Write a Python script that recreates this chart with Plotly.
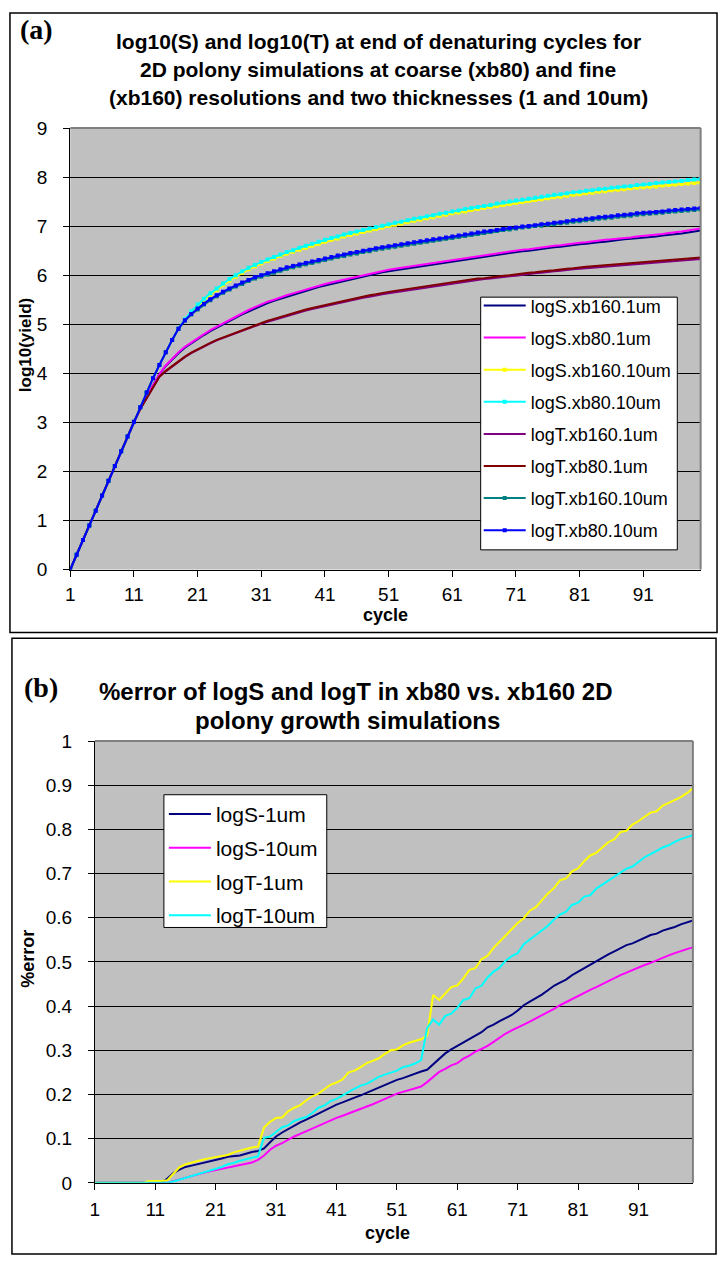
import plotly.graph_objects as go

# ---------------- data ----------------
cycles = list(range(1, 101))
x_tick_labels = [1, 11, 21, 31, 41, 51, 61, 71, 81, 91]

# shared exponential phase, cycles 1..11 (panel a)
early = [0.00, 0.30, 0.60, 0.90, 1.20, 1.51, 1.81, 2.11, 2.41, 2.71, 3.01]

logS_xb160_1um = early + [
    3.29, 3.53, 3.76, 3.98, 4.15, 4.29, 4.41, 4.52, 4.61,
    4.70, 4.78, 4.86, 4.93, 5.00, 5.07, 5.14, 5.20, 5.26, 5.32,
    5.38, 5.43, 5.48, 5.52, 5.57, 5.61, 5.65, 5.69, 5.72, 5.76,
    5.79, 5.82, 5.86, 5.89, 5.92, 5.95, 5.98, 6.00, 6.03, 6.06,
    6.08, 6.10, 6.12, 6.14, 6.16, 6.18, 6.20, 6.22, 6.24, 6.26,
    6.28, 6.30, 6.32, 6.34, 6.36, 6.38, 6.40, 6.42, 6.43, 6.45,
    6.47, 6.49, 6.50, 6.52, 6.53, 6.55, 6.57, 6.58, 6.60, 6.61,
    6.63, 6.64, 6.66, 6.67, 6.68, 6.70, 6.71, 6.73, 6.74, 6.75,
    6.77, 6.78, 6.79, 6.81, 6.82, 6.84, 6.85, 6.87, 6.89, 6.91]

logS_xb80_1um = early + [
    3.29, 3.53, 3.76, 3.98, 4.16, 4.30, 4.43, 4.54, 4.63,
    4.72, 4.80, 4.88, 4.95, 5.02, 5.09, 5.16, 5.23, 5.29, 5.35,
    5.41, 5.46, 5.50, 5.55, 5.59, 5.63, 5.67, 5.71, 5.75, 5.79,
    5.82, 5.85, 5.88, 5.91, 5.94, 5.97, 6.00, 6.03, 6.06, 6.09,
    6.11, 6.13, 6.15, 6.17, 6.19, 6.21, 6.23, 6.25, 6.27, 6.29,
    6.31, 6.33, 6.35, 6.37, 6.39, 6.41, 6.43, 6.45, 6.47, 6.48,
    6.50, 6.52, 6.53, 6.55, 6.57, 6.58, 6.60, 6.61, 6.63, 6.64,
    6.66, 6.67, 6.69, 6.70, 6.72, 6.73, 6.74, 6.76, 6.77, 6.79,
    6.80, 6.81, 6.83, 6.84, 6.86, 6.87, 6.89, 6.91, 6.93, 6.95]

logS_xb160_10um = early + [
    3.31, 3.61, 3.90, 4.17, 4.43, 4.68, 4.91, 5.09, 5.24,
    5.37, 5.49, 5.60, 5.70, 5.80, 5.89, 5.97, 6.05, 6.12, 6.18,
    6.24, 6.29, 6.34, 6.39, 6.44, 6.48, 6.52, 6.56, 6.60, 6.64,
    6.68, 6.72, 6.75, 6.79, 6.82, 6.85, 6.88, 6.91, 6.94, 6.97,
    7.00, 7.03, 7.05, 7.08, 7.11, 7.13, 7.16, 7.18, 7.21, 7.23,
    7.26, 7.28, 7.30, 7.33, 7.35, 7.37, 7.39, 7.41, 7.43, 7.45,
    7.47, 7.49, 7.51, 7.53, 7.55, 7.57, 7.59, 7.60, 7.62, 7.64,
    7.65, 7.67, 7.68, 7.70, 7.71, 7.73, 7.74, 7.75, 7.77, 7.78,
    7.79, 7.80, 7.81, 7.83, 7.84, 7.85, 7.86, 7.87, 7.88, 7.89]

logS_xb80_10um = early + [
    3.31, 3.61, 3.90, 4.17, 4.43, 4.68, 4.91, 5.10, 5.26,
    5.40, 5.52, 5.63, 5.73, 5.83, 5.92, 6.00, 6.08, 6.15, 6.21,
    6.27, 6.32, 6.37, 6.42, 6.47, 6.51, 6.56, 6.60, 6.64, 6.68,
    6.72, 6.76, 6.79, 6.83, 6.86, 6.89, 6.92, 6.95, 6.98, 7.01,
    7.04, 7.07, 7.09, 7.12, 7.15, 7.17, 7.20, 7.22, 7.25, 7.27,
    7.30, 7.32, 7.35, 7.37, 7.39, 7.41, 7.43, 7.46, 7.48, 7.50,
    7.52, 7.54, 7.56, 7.58, 7.60, 7.62, 7.64, 7.65, 7.67, 7.69,
    7.70, 7.72, 7.73, 7.75, 7.76, 7.78, 7.79, 7.81, 7.82, 7.84,
    7.85, 7.86, 7.88, 7.89, 7.90, 7.91, 7.92, 7.94, 7.95, 7.96]

logT_xb160_1um = early + [
    3.27, 3.50, 3.72, 3.93, 4.04, 4.14, 4.24, 4.33, 4.41,
    4.48, 4.55, 4.61, 4.67, 4.72, 4.77, 4.82, 4.87, 4.92, 4.96,
    5.01, 5.05, 5.09, 5.13, 5.17, 5.21, 5.24, 5.28, 5.31, 5.34,
    5.37, 5.40, 5.43, 5.46, 5.48, 5.51, 5.54, 5.56, 5.59, 5.61,
    5.63, 5.65, 5.67, 5.69, 5.71, 5.73, 5.75, 5.77, 5.79, 5.81,
    5.83, 5.85, 5.87, 5.88, 5.90, 5.92, 5.93, 5.95, 5.96, 5.98,
    5.99, 6.01, 6.02, 6.04, 6.05, 6.07, 6.08, 6.09, 6.11, 6.12,
    6.13, 6.14, 6.15, 6.17, 6.18, 6.19, 6.20, 6.21, 6.22, 6.23,
    6.24, 6.25, 6.26, 6.27, 6.28, 6.29, 6.30, 6.31, 6.32, 6.33]

logT_xb80_1um = early + [
    3.27, 3.50, 3.72, 3.93, 4.05, 4.15, 4.25, 4.34, 4.42,
    4.49, 4.56, 4.62, 4.68, 4.73, 4.78, 4.83, 4.88, 4.93, 4.98,
    5.03, 5.07, 5.11, 5.15, 5.19, 5.23, 5.26, 5.30, 5.33, 5.36,
    5.39, 5.42, 5.45, 5.48, 5.51, 5.53, 5.56, 5.59, 5.61, 5.64,
    5.66, 5.68, 5.70, 5.72, 5.74, 5.76, 5.78, 5.80, 5.82, 5.84,
    5.86, 5.88, 5.89, 5.91, 5.93, 5.94, 5.96, 5.97, 5.99, 6.00,
    6.02, 6.03, 6.05, 6.06, 6.08, 6.09, 6.10, 6.12, 6.13, 6.14,
    6.16, 6.17, 6.18, 6.19, 6.21, 6.22, 6.23, 6.24, 6.25, 6.26,
    6.27, 6.28, 6.29, 6.30, 6.31, 6.32, 6.33, 6.34, 6.35, 6.36]

logT_xb160_10um = early + [
    3.31, 3.61, 3.90, 4.17, 4.43, 4.68, 4.91, 5.07, 5.20,
    5.30, 5.40, 5.49, 5.57, 5.64, 5.71, 5.77, 5.82, 5.88, 5.93,
    5.97, 6.01, 6.05, 6.09, 6.13, 6.16, 6.19, 6.22, 6.25, 6.28,
    6.31, 6.34, 6.37, 6.39, 6.42, 6.44, 6.47, 6.49, 6.52, 6.54,
    6.56, 6.58, 6.60, 6.62, 6.64, 6.66, 6.68, 6.70, 6.72, 6.74,
    6.76, 6.78, 6.80, 6.82, 6.84, 6.86, 6.88, 6.90, 6.92, 6.93,
    6.95, 6.97, 6.98, 7.00, 7.01, 7.03, 7.04, 7.06, 7.07, 7.09,
    7.10, 7.12, 7.13, 7.15, 7.16, 7.17, 7.19, 7.20, 7.21, 7.23,
    7.24, 7.25, 7.26, 7.27, 7.29, 7.30, 7.31, 7.32, 7.33, 7.34]

logT_xb80_10um = early + [
    3.31, 3.61, 3.90, 4.17, 4.43, 4.68, 4.91, 5.08, 5.21,
    5.32, 5.42, 5.51, 5.59, 5.66, 5.73, 5.79, 5.85, 5.90, 5.96,
    6.00, 6.04, 6.08, 6.12, 6.16, 6.19, 6.22, 6.25, 6.28, 6.31,
    6.34, 6.37, 6.40, 6.42, 6.45, 6.47, 6.50, 6.52, 6.55, 6.57,
    6.59, 6.61, 6.63, 6.65, 6.67, 6.69, 6.71, 6.73, 6.75, 6.77,
    6.79, 6.81, 6.83, 6.85, 6.87, 6.89, 6.90, 6.92, 6.94, 6.96,
    6.97, 6.99, 7.00, 7.02, 7.04, 7.05, 7.07, 7.08, 7.10, 7.12,
    7.13, 7.15, 7.16, 7.18, 7.19, 7.20, 7.22, 7.23, 7.24, 7.26,
    7.27, 7.28, 7.29, 7.30, 7.32, 7.33, 7.34, 7.35, 7.36, 7.37]

# panel b: %error
err_logS_1um = [0] * 12 + [
    0.010, 0.022, 0.030, 0.036, 0.039, 0.042, 0.045, 0.049,
    0.052, 0.055, 0.059, 0.061, 0.062, 0.066, 0.070, 0.072, 0.078, 0.092,
    0.105, 0.114, 0.122, 0.130, 0.137, 0.143, 0.150, 0.156, 0.163, 0.170,
    0.177, 0.182, 0.188, 0.193, 0.198, 0.204, 0.210, 0.216, 0.222, 0.227,
    0.233, 0.237, 0.242, 0.248, 0.252, 0.256, 0.268, 0.282, 0.293, 0.302,
    0.310, 0.318, 0.326, 0.334, 0.341, 0.352, 0.358, 0.366, 0.373, 0.380,
    0.390, 0.402, 0.410, 0.418, 0.426, 0.436, 0.446, 0.453, 0.460, 0.470,
    0.478, 0.486, 0.494, 0.502, 0.510, 0.517, 0.524, 0.531, 0.538, 0.542,
    0.548, 0.555, 0.561, 0.564, 0.571, 0.575, 0.579, 0.585, 0.589, 0.594]

err_logS_10um = [0] * 13 + [
    0.004, 0.008, 0.012, 0.016, 0.020, 0.023, 0.026,
    0.029, 0.032, 0.035, 0.037, 0.041, 0.044, 0.046, 0.052, 0.062, 0.075,
    0.084, 0.090, 0.098, 0.105, 0.111, 0.117, 0.124, 0.130, 0.136, 0.141,
    0.147, 0.152, 0.157, 0.163, 0.168, 0.173, 0.178, 0.184, 0.190, 0.197,
    0.202, 0.206, 0.210, 0.214, 0.218, 0.228, 0.240, 0.251, 0.258, 0.266,
    0.271, 0.281, 0.288, 0.297, 0.303, 0.310, 0.319, 0.329, 0.338, 0.345,
    0.351, 0.358, 0.365, 0.372, 0.379, 0.386, 0.394, 0.402, 0.409, 0.417,
    0.423, 0.430, 0.437, 0.443, 0.450, 0.456, 0.463, 0.470, 0.476, 0.482,
    0.487, 0.493, 0.498, 0.504, 0.510, 0.515, 0.520, 0.525, 0.529, 0.533]

err_logT_1um = [0] * 9 + [
    0.004, 0.004, 0.004, 0.006, 0.020, 0.035, 0.042, 0.046, 0.049, 0.053, 0.056,
    0.058, 0.061, 0.063, 0.069, 0.073, 0.077, 0.080, 0.082, 0.125, 0.138,
    0.147, 0.148, 0.162, 0.170, 0.176, 0.187, 0.196, 0.202, 0.213, 0.222,
    0.227, 0.234, 0.250, 0.254, 0.262, 0.271, 0.276, 0.282, 0.292, 0.300,
    0.302, 0.311, 0.317, 0.321, 0.325, 0.333, 0.425, 0.414, 0.428, 0.443,
    0.447, 0.463, 0.482, 0.486, 0.506, 0.514, 0.532, 0.546, 0.560, 0.573,
    0.588, 0.599, 0.616, 0.624, 0.640, 0.655, 0.667, 0.685, 0.689, 0.705,
    0.712, 0.728, 0.741, 0.747, 0.759, 0.771, 0.778, 0.794, 0.797, 0.811,
    0.819, 0.829, 0.838, 0.841, 0.854, 0.860, 0.866, 0.873, 0.882, 0.893]

err_logT_10um = [0] * 13 + [
    0.003, 0.007, 0.011, 0.015, 0.019, 0.024, 0.028,
    0.031, 0.036, 0.042, 0.045, 0.050, 0.053, 0.056, 0.060, 0.102, 0.105,
    0.115, 0.126, 0.130, 0.140, 0.145, 0.149, 0.158, 0.170, 0.175, 0.185,
    0.190, 0.198, 0.205, 0.213, 0.220, 0.224, 0.232, 0.240, 0.245, 0.250,
    0.254, 0.262, 0.265, 0.270, 0.278, 0.350, 0.370, 0.358, 0.378, 0.383,
    0.396, 0.414, 0.418, 0.440, 0.446, 0.465, 0.478, 0.487, 0.503, 0.513,
    0.520, 0.540, 0.550, 0.560, 0.570, 0.582, 0.596, 0.607, 0.614, 0.629,
    0.634, 0.648, 0.651, 0.666, 0.675, 0.684, 0.694, 0.702, 0.711, 0.716,
    0.726, 0.737, 0.744, 0.752, 0.759, 0.764, 0.772, 0.778, 0.783, 0.787]

# ---------------- figure ----------------
W, H = 722, 1262
def px(x):
    return x / W
def py(y):
    return 1 - y / H

FONT = "Arial, 'Liberation Sans', sans-serif"
SERIF = "'Times New Roman', 'Liberation Serif', serif"

fig = go.Figure()

series_a = [
    ("logS.xb160.1um", logS_xb160_1um, "#000080", False),
    ("logS.xb80.1um", logS_xb80_1um, "#FF00FF", False),
    ("logS.xb160.10um", logS_xb160_10um, "#FFFF00", True),
    ("logS.xb80.10um", logS_xb80_10um, "#00FFFF", True),
    ("logT.xb160.1um", logT_xb160_1um, "#800080", False),
    ("logT.xb80.1um", logT_xb80_1um, "#800000", False),
    ("logT.xb160.10um", logT_xb160_10um, "#008080", True),
    ("logT.xb80.10um", logT_xb80_10um, "#0000FF", True),
]
for name, vals, col, mk in series_a:
    fig.add_trace(go.Scatter(
        x=cycles, y=vals, name=name, mode="lines+markers" if mk else "lines",
        line=dict(color=col, width=2),
        marker=dict(symbol="square", size=4, color=col),
        legendgroup=name, legend="legend", xaxis="x", yaxis="y"))

series_b = [
    ("logS-1um", err_logS_1um, "#000080"),
    ("logS-10um", err_logS_10um, "#FF00FF"),
    ("logT-1um", err_logT_1um, "#FFFF00"),
    ("logT-10um", err_logT_10um, "#00FFFF"),
]
for name, vals, col in series_b:
    fig.add_trace(go.Scatter(
        x=cycles, y=vals, name=name, mode="lines",
        line=dict(color=col, width=2),
        legendgroup=name, legend="legend2", xaxis="x2", yaxis="y2"))

# plot-area geometry (pixels)
A_L, A_R, A_T, A_B = 65.7, 700.5, 120, 569
B_L, B_R, B_T, B_B = 90.5, 692.7, 743.4, 1192.7

common_x = dict(range=[1, 100], tickvals=x_tick_labels, ticks="outside", ticklen=6,
                tickcolor="black", showline=True, linecolor="black", linewidth=1,
                showgrid=False, zeroline=False,
                tickfont=dict(family=FONT, size=19, color="black"))
common_y = dict(ticks="outside", ticklen=6, tickcolor="black", showline=True,
                linecolor="black", linewidth=1, showgrid=True, gridcolor="black",
                gridwidth=1, zeroline=False,
                tickfont=dict(family=FONT, size=19, color="black"))

fig.update_layout(
    width=W, height=H, margin=dict(l=0, r=0, t=0, b=0),
    paper_bgcolor="white", plot_bgcolor="#C0C0C0",
    font=dict(family=FONT, color="black"),
    xaxis=dict(domain=[px(A_L), px(A_R)], anchor="y", ticklabelstandoff=2, **common_x),
    yaxis=dict(domain=[py(A_B), py(A_T)], anchor="x", range=[0, 9], dtick=1,
               ticklabelstandoff=12, **common_y),
    xaxis2=dict(domain=[px(B_L), px(B_R)], anchor="y2", ticklabelstandoff=3, **common_x),
    yaxis2=dict(domain=[py(B_B), py(B_T)], anchor="x2", range=[0, 1], dtick=0.1,
                tickformat=".1~f", ticklabelstandoff=12, **common_y),
    legend=dict(x=px(477), y=py(282), xanchor="left", yanchor="top",
                bgcolor="rgba(0,0,0,0)", borderwidth=0, itemwidth=42,
                font=dict(family=FONT, size=18, color="black"), tracegroupgap=5.7),
    legend2=dict(x=px(160), y=py(797), xanchor="left", yanchor="top",
                 bgcolor="rgba(0,0,0,0)", borderwidth=0, itemwidth=42,
                 font=dict(family=FONT, size=21, color="black"), tracegroupgap=3.5),
    showlegend=True,
)

shapes = [
    # outer panel frames
    dict(type="rect", xref="paper", yref="paper", x0=px(5), x1=px(717), y0=py(633), y1=py(3),
         line=dict(color="black", width=1.5)),
    dict(type="rect", xref="paper", yref="paper", x0=px(7), x1=px(716), y0=py(1265), y1=py(639),
         line=dict(color="black", width=1.5)),
    # gray plot borders (top & right)
    dict(type="line", xref="paper", yref="paper", x0=px(A_L), x1=px(A_R), y0=py(A_T), y1=py(A_T),
         line=dict(color="#808080", width=2)),
    dict(type="line", xref="paper", yref="paper", x0=px(A_R), x1=px(A_R), y0=py(A_B), y1=py(A_T),
         line=dict(color="#808080", width=2)),
    dict(type="line", xref="paper", yref="paper", x0=px(B_L), x1=px(B_R), y0=py(B_T), y1=py(B_T),
         line=dict(color="#808080", width=2)),
    dict(type="line", xref="paper", yref="paper", x0=px(B_R), x1=px(B_R), y0=py(B_B), y1=py(B_T),
         line=dict(color="#808080", width=2)),
    # legend boxes
    dict(type="rect", xref="paper", yref="paper", layer="above",
         x0=px(479), x1=px(677), y0=py(549), y1=py(292),
         fillcolor="white", line=dict(color="black", width=1)),
    dict(type="rect", xref="paper", yref="paper", layer="above",
         x0=px(160), x1=px(324), y0=py(933), y1=py(798),
         fillcolor="white", line=dict(color="black", width=1)),
]
fig.update_layout(shapes=shapes)

def ann(text, x, y, size, bold=True, family=FONT, angle=0):
    return dict(text=f"<b>{text}</b>" if bold else text, x=px(x), y=py(y),
                xref="paper", yref="paper", xanchor="center", yanchor="middle",
                showarrow=False, textangle=angle,
                font=dict(family=family, size=size, color="black"))

annotations = [
    ann("(a)", 32, 20, 28, family=SERIF),
    ann("log10(S) and log10(T) at end of denaturing cycles for", 376, 32, 21),
    ann("2D polony simulations at coarse (xb80) and fine", 376, 60, 21),
    ann("(xb160) resolutions and two thicknesses (1 and 10um)", 376, 89, 21),
    ann("log10(yield)", 20, 341, 17, angle=-90),
    ann("cycle", 383, 615, 18),
    ann("(b)", 36, 689, 28, family=SERIF),
    ann("%error of logS and logT in xb80 vs. xb160 2D", 353, 693, 24),
    ann("polony growth simulations", 345, 723, 24),
    ann("%error", 23, 965, 18, angle=-90),
    ann("cycle", 385, 1244, 18),
]
fig.update_layout(annotations=annotations)

fig.write_html("out.html")
